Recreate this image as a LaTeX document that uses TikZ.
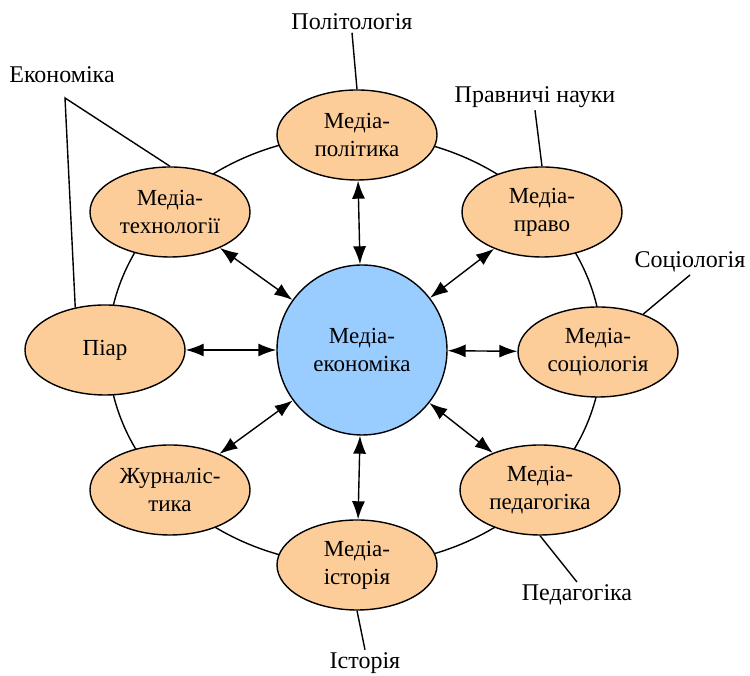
\documentclass[tikz,border=0pt]{standalone}
\usepackage{fontspec}
\setmainfont{Liberation Serif}
\usetikzlibrary{shapes.geometric,arrows.meta}
\definecolor{peach}{RGB}{252,204,153}
\definecolor{skyblue}{RGB}{153,204,255}
\begin{document}
\begin{tikzpicture}[x=1pt,y=1pt,line width=1.4pt,>={Latex[length=18pt,width=13pt]},
  field/.style={draw, ellipse, fill=peach, minimum width=160pt, minimum height=90pt, inner sep=0pt, align=center, font=\fontsize{23}{28}\selectfont},
  core/.style={draw, circle, fill=skyblue, minimum size=170pt, inner sep=0pt, align=center, font=\fontsize{23}{28}\selectfont},
  science/.style={font=\fontsize{24}{28}\selectfont, inner sep=2pt}]
\useasboundingbox (0,0) rectangle (750,676);
\draw (355,326) ellipse [x radius=247, y radius=215];
\node[core] (econ) at (362,326) {Медіа-\\економіка};
\node[field] (pol) at (357,541) {Медіа-\\політика};
\node[field] (tech) at (170,464) {Медіа-\\технології};
\node[field] (law) at (542,464) {Медіа-\\право};
\node[field] (pr) at (105,326) {Піар};
\node[field] (soc) at (598,324) {Медіа-\\соціологія};
\node[field] (jour) at (170,186) {Журналіс-\\тика};
\node[field] (ped) at (540,186) {Медіа-\\педагогіка};
\node[field] (hist) at (357,111) {Медіа-\\історія};
\draw[<->] (econ) -- (pol);
\draw[<->] (econ) -- (tech);
\draw[<->] (econ) -- (law);
\draw[<->] (econ) -- (pr);
\draw[<->] (econ) -- (soc);
\draw[<->] (econ) -- (jour);
\draw[<->] (econ) -- (ped);
\draw[<->] (econ) -- (hist);
\node[science] (pollbl) at (352,654) {Політологія};
\node[science] (econlbl) at (62,601) {Економіка};
\node[science] (lawlbl) at (535,579) {Правничі науки};
\node[science] (soclbl) at (690,414) {Соціологія};
\node[science] (pedlbl) at (577,81) {Педагогіка};
\node[science] (histlbl) at (365,13) {Історія};
\coordinate (econtip) at (65,578);
\draw (pollbl.south) -- (pol.north);
\draw (tech.north) -- (econtip) -- (pr.125);
\draw (lawlbl.south) -- (law.north);
\draw (soclbl.south) -- (soc);
\draw (ped.south) -- (pedlbl.north);
\draw (hist.south) -- (histlbl.north);
\end{tikzpicture}
\end{document}
